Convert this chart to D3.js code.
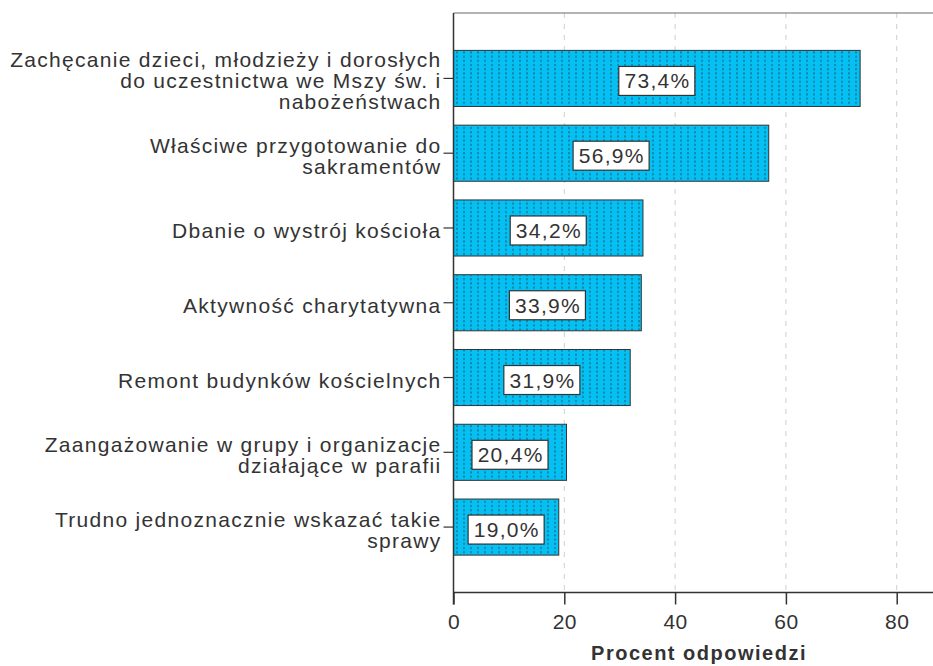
<!DOCTYPE html>
<html>
<head>
<meta charset="utf-8">
<script src="https://cdn.jsdelivr.net/npm/d3@7"></script>
<style>
  html, body { margin: 0; padding: 0; background: #fff; }
  svg { display: block; }
  text { font-family: "Liberation Sans", Arial, sans-serif; fill: #333; }
</style>
</head>
<body>
<svg id="chart" width="933" height="666"></svg>
<script>
// ---- data ----
const categories = [
  "Zachęcanie dzieci, młodzieży i dorosłych do uczestnictwa we Mszy św. i nabożeństwach",
  "Właściwe przygotowanie do sakramentów",
  "Dbanie o wystrój kościoła",
  "Aktywność charytatywna",
  "Remont budynków kościelnych",
  "Zaangażowanie w grupy i organizacje działające w parafii",
  "Trudno jednoznacznie wskazać takie sprawy"
];
const categoryLines = [
  ["Zachęcanie dzieci, młodzieży i dorosłych", "do uczestnictwa we Mszy św. i", "nabożeństwach"],
  ["Właściwe przygotowanie do", "sakramentów"],
  ["Dbanie o wystrój kościoła"],
  ["Aktywność charytatywna"],
  ["Remont budynków kościelnych"],
  ["Zaangażowanie w grupy i organizacje", "działające w parafii"],
  ["Trudno jednoznacznie wskazać takie", "sprawy"]
];
const values = [73.4, 56.9, 34.2, 33.9, 31.9, 20.4, 19.0];
const xTicks = [0, 20, 40, 60, 80];
const xTitle = "Procent odpowiedzi";

(function () {
// ---- layout ----
const svg = d3.select("#chart");
const pLeft = 453.5, pTop = 13, pBottom = 592.5;
const fontSize = 21, letterSp = 1.3;

const x = d3.scaleLinear().domain([0, 90]).range([pLeft, pLeft + 90 * 5.54]);
const y = d3.scaleBand().domain(categories).range([pTop, pBottom])
  .paddingInner(0.25).paddingOuter(0.5);

const pl = d3.formatLocale({decimal: ",", thousands: " ", grouping: [3], currency: ["", ""]});
const fmt = v => pl.format(".1f")(v) + "%";

// pattern
const defs = svg.append("defs");
const pat = defs.append("pattern").attr("id", "dots")
  .attr("patternUnits", "userSpaceOnUse").attr("width", 7).attr("height", 4.2)
  .attr("x", pLeft + 3).attr("y", 0);
pat.append("rect").attr("width", 7).attr("height", 4.2).attr("fill", "#05c0f3");
pat.append("rect").attr("x", 0).attr("y", 1).attr("width", 1).attr("height", 2).attr("fill", "#1d4a60");

// gridlines
svg.append("g").selectAll("line").data(xTicks.filter(d => d > 0)).join("line")
  .attr("x1", d => x(d)).attr("x2", d => x(d))
  .attr("y1", pTop).attr("y2", pBottom)
  .attr("stroke", "#cfcfcf").attr("stroke-width", 1).attr("stroke-dasharray", "5,6");

// top frame line
svg.append("line").attr("x1", pLeft).attr("x2", 933).attr("y1", pTop).attr("y2", pTop)
  .attr("stroke", "#6a6a6a").attr("stroke-width", 1.2);

// bars
svg.append("g").selectAll("rect").data(values).join("rect")
  .attr("x", x(0)).attr("y", (d, i) => y(categories[i]))
  .attr("width", d => x(d) - x(0)).attr("height", y.bandwidth())
  .attr("fill", "url(#dots)").attr("stroke", "#333").attr("stroke-width", 1);

// x axis
const xAxis = svg.append("g").attr("transform", `translate(0,${pBottom})`)
  .call(d3.axisBottom(x).tickValues(xTicks).tickSize(12).tickSizeOuter(0).tickPadding(5));
xAxis.select(".domain").attr("d", `M${pLeft},0H933`).attr("stroke", "#333").attr("stroke-width", 1.5);
xAxis.selectAll(".tick line").attr("stroke", "#333").attr("stroke-width", 1.5);
xAxis.selectAll(".tick text").attr("font-size", fontSize).attr("font-family", null)
  .attr("fill", "#333").style("letter-spacing", "0.5px").attr("dy", "0.95em");

// y axis
const yAxis = svg.append("g").attr("transform", `translate(${pLeft},0)`)
  .call(d3.axisLeft(y).tickSize(10).tickSizeOuter(0).tickPadding(3).tickFormat(""));
yAxis.select(".domain").attr("d", `M0,${pTop}V${pBottom + 12}`).attr("stroke", "#333").attr("stroke-width", 1.5);
yAxis.selectAll(".tick line").attr("stroke", "#333").attr("stroke-width", 1.2);

// category labels
const lineH = 21;
const catG = svg.append("g");
categories.forEach((c, i) => {
  const lines = categoryLines[i];
  const cy = y(c) + y.bandwidth() / 2 + 2.5;
  const firstBase = cy - (lines.length - 1) * lineH / 2 + 7.5;
  const t = catG.append("text").attr("text-anchor", "end").attr("font-size", fontSize)
    .style("letter-spacing", letterSp + "px");
  lines.forEach((ln, k) => {
    t.append("tspan").attr("x", pLeft - 12).attr("y", firstBase + k * lineH).text(ln);
  });
});

// value labels
const lblG = svg.append("g");
values.forEach((v, i) => {
  const cx = (x(0) + x(v)) / 2;
  const cy = y(categories[i]) + y.bandwidth() / 2 + 2.5;
  const g = lblG.append("g");
  const rect = g.append("rect");
  const t = g.append("text").attr("x", cx + letterSp / 2).attr("y", cy + 7.5)
    .attr("text-anchor", "middle").attr("font-size", fontSize)
    .style("letter-spacing", letterSp + "px").text(fmt(v));
  const w = t.node().getComputedTextLength();
  rect.attr("x", cx - w / 2 - 5).attr("y", cy - 14.5).attr("width", w + 10).attr("height", 29)
    .attr("fill", "#fff").attr("stroke", "#333").attr("stroke-width", 1.2);
});

// x title
svg.append("text").attr("x", 699).attr("y", 660).attr("text-anchor", "middle")
  .attr("font-size", 20).attr("font-weight", "bold").style("letter-spacing", "1.5px")
  .attr("fill", "#111").text(xTitle);
})();
</script>
</body>
</html>
